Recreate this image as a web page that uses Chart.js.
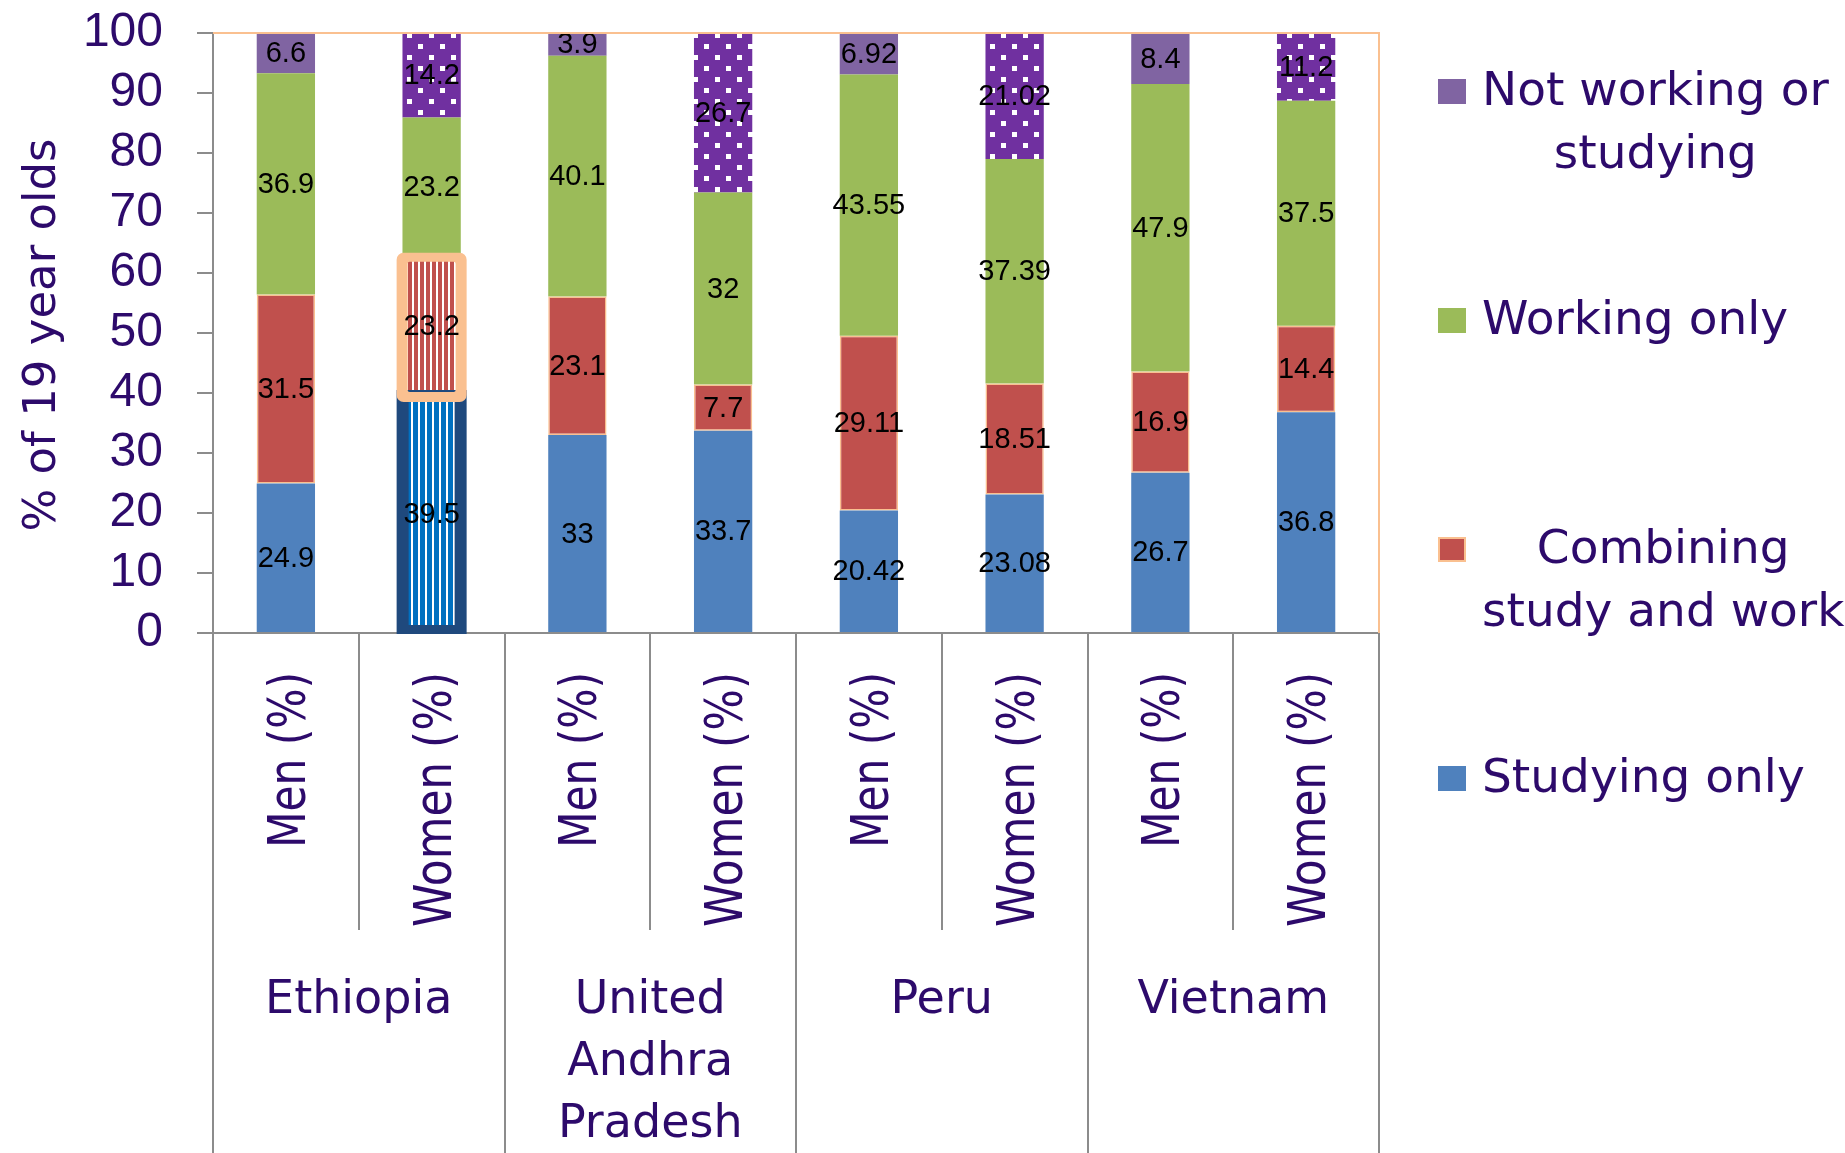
<!DOCTYPE html>
<html>
<head>
<meta charset="utf-8">
<script src="https://cdn.jsdelivr.net/npm/chart.js@4.4.1/dist/chart.umd.min.js"></script>
<style>
  html, body { margin: 0; padding: 0; background: #ffffff; overflow: hidden; }
  canvas { display: block; }
</style>
</head>
<body>
<canvas id="chart" width="1845" height="1153"></canvas>
<script>
// Activity of 19 year olds by country and sex (stacked, %)
const sexLabels = ['Men (%)', 'Women (%)', 'Men (%)', 'Women (%)', 'Men (%)', 'Women (%)', 'Men (%)', 'Women (%)'];
const countryLabels = [['Ethiopia'], ['United', 'Andhra', 'Pradesh'], ['Peru'], ['Vietnam']];

const studyingOnly = [24.9, 39.5, 33, 33.7, 20.42, 23.08, 26.7, 36.8];
const combiningStudyWork = [31.5, 23.2, 23.1, 7.7, 29.11, 18.51, 16.9, 14.4];
const workingOnly = [36.9, 23.2, 40.1, 32, 43.55, 37.39, 47.9, 37.5];
const notWorkingOrStudying = [6.6, 14.2, 3.9, 26.7, 6.92, 21.02, 8.4, 11.2];

const seriesNames = ['Studying only', 'Combining study and work', 'Working only', 'Not working or studying'];
const legendLines = [['Not working or', 'studying'], ['Working only'], ['Combining', 'study and work'], ['Studying only']];

const yTickStep = 10;
const yMin = 0;
const yMax = 100;

const TEXT = '#2D0A6B';
const AXIS = '#8c8c8c';
const PLOT_EDGE = '#FAC090';
const BLUE = '#4F81BD', RED = '#C0504D', GREEN = '#9BBB59', PURPLE = '#8064A2';

// ---- fill patterns ----
function makePattern(w, h, paint) {
  const c = document.createElement('canvas');
  c.width = w; c.height = h;
  const g = c.getContext('2d');
  paint(g);
  return g.createPattern(c, 'repeat');
}
const ctx = document.getElementById('chart').getContext('2d');
const dots = makePattern(22, 22, g => {
  g.fillStyle = '#7030A0'; g.fillRect(0, 0, 22, 22);
  g.fillStyle = '#ffffff';
  g.fillRect(0, 0, 5, 5); g.fillRect(11, 11, 5, 5);
});
const blueStripes = makePattern(7, 10, g => {
  g.fillStyle = '#0070C0'; g.fillRect(0, 0, 7, 10);
  g.fillStyle = '#ffffff'; g.fillRect(5, 0, 2, 10);
});
const redStripes = makePattern(6, 10, g => {
  g.fillStyle = RED; g.fillRect(0, 0, 6, 10);
  g.fillStyle = '#ffffff'; g.fillRect(4, 0, 2, 10);
});

const isWomen = i => i % 2 === 1;

// ---- plugins ----
const frames = {
  id: 'frames',
  afterDatasetsDraw(chart) {
    const c = chart.ctx;
    const s = chart.getDatasetMeta(0).data[1];
    const m = chart.getDatasetMeta(1).data[1];
    c.save();
    // navy frame round the striped blue segment
    if (s) {
      const cx = s.x, top = s.y, base = s.base;
      c.beginPath();
      c.rect(cx - 35, top - 6, 70, base + 2 - (top - 6));
      c.rect(cx - 23, top + 6, 46, base - 7 - (top + 6));
      c.fillStyle = '#1F497D';
      c.fill('evenodd');
    }
    // light orange rounded frame round the striped red segment
    if (m) {
      const cx = m.x, top = m.y, base = m.base;
      c.beginPath();
      c.roundRect(cx - 35, top - 4, 70, base + 6 - (top - 4), 7);
      c.roundRect(cx - 24, top + 5, 48, base - 4 - (top + 5), 2);
      c.fillStyle = PLOT_EDGE;
      c.fill('evenodd');
    }
    c.restore();
  }
};

const valueLabels = {
  id: 'valueLabels',
  afterDatasetsDraw(chart) {
    const c = chart.ctx;
    c.save();
    c.font = '29px "Liberation Sans", Arial, sans-serif';
    c.fillStyle = '#000000';
    c.textAlign = 'center';
    c.textBaseline = 'middle';
    chart.data.datasets.forEach((ds, di) => {
      chart.getDatasetMeta(di).data.forEach((el, i) => {
        const cy = (el.y + el.base) / 2;
        c.fillText(String(ds.data[i]), el.x, cy + 1);
      });
    });
    c.restore();
  }
};

const axisDecor = {
  id: 'axisDecor',
  afterDraw(chart) {
    const c = chart.ctx;
    const a = chart.chartArea;
    const x = chart.scales.x;
    const H = chart.height;
    const n = sexLabels.length;
    const step = (a.right - a.left) / n;
    c.save();

    // plot area edges (top and right)
    c.strokeStyle = PLOT_EDGE; c.lineWidth = 2;
    c.beginPath();
    c.moveTo(a.left, a.top); c.lineTo(a.right, a.top); c.lineTo(a.right, a.bottom);
    c.stroke();

    // category separators below the axis
    c.strokeStyle = AXIS; c.lineWidth = 2;
    for (let k = 0; k <= n; k++) {
      const px = Math.round(x.getPixelForValue(0) - step / 2 + k * step);
      const bottom = (k % 2 === 0) ? H : 930;
      c.beginPath(); c.moveTo(px, a.bottom); c.lineTo(px, bottom); c.stroke();
    }

    // rotated sex labels
    c.fillStyle = TEXT;
    c.font = '51px "DejaVu Sans", sans-serif';
    c.textAlign = 'right';
    c.textBaseline = 'alphabetic';
    sexLabels.forEach((lab, i) => {
      const cx = x.getPixelForValue(i);
      c.save();
      c.translate(cx, a.bottom + 39);
      c.rotate(-Math.PI / 2);
      c.scale(isWomen(i) ? 0.86 : 0.83, 1);
      c.fillText(lab, 0, 19);
      c.restore();
    });

    // country labels
    c.font = '46px "DejaVu Sans", sans-serif';
    c.textAlign = 'center';
    countryLabels.forEach((lines, g) => {
      const cx = (x.getPixelForValue(2 * g) + x.getPixelForValue(2 * g + 1)) / 2;
      lines.forEach((t, j) => c.fillText(t, cx, 1013 + j * 62));
    });

    // y axis title
    c.save();
    c.font = '45px "DejaVu Sans", sans-serif';
    c.textAlign = 'center';
    c.textBaseline = 'middle';
    c.translate(43, (a.top + a.bottom) / 2 + 2);
    c.rotate(-Math.PI / 2);
    c.fillText('% of 19 year olds', 0, 0);
    c.restore();

    // legend
    const swatches = [PURPLE, GREEN, RED, BLUE];
    c.font = '47px "DejaVu Sans", sans-serif';
    c.textBaseline = 'alphabetic';
    c.textAlign = 'center';
    const sx = a.right + 59, tx = a.right + 103;
    legendLines.forEach((lines, k) => {
      const base = a.top + 72 + k * 229;
      c.fillStyle = swatches[k];
      c.fillRect(sx, base - 26, 28, 25);
      if (k === 2) {
        c.strokeStyle = PLOT_EDGE; c.lineWidth = 2;
        c.strokeRect(sx + 1, base - 25, 26, 23);
      }
      const w = Math.max(...lines.map(t => c.measureText(t).width));
      c.fillStyle = TEXT;
      lines.forEach((t, j) => c.fillText(t, tx + w / 2, base + j * 63));
    });
    c.restore();
  }
};

const commonBar = { barPercentage: 0.4, categoryPercentage: 1.0, borderSkipped: false };

new Chart(ctx, {
  type: 'bar',
  data: {
    labels: sexLabels,
    datasets: [
      { ...commonBar, label: seriesNames[0], data: studyingOnly,
        backgroundColor: c => c.dataIndex === 1 ? blueStripes : BLUE, borderWidth: 0 },
      { ...commonBar, label: seriesNames[1], data: combiningStudyWork,
        backgroundColor: c => c.dataIndex === 1 ? redStripes : RED,
        borderColor: PLOT_EDGE, borderWidth: c => c.dataIndex === 1 ? 0 : 1.5 },
      { ...commonBar, label: seriesNames[2], data: workingOnly,
        backgroundColor: GREEN, borderWidth: 0 },
      { ...commonBar, label: seriesNames[3], data: notWorkingOrStudying,
        backgroundColor: c => isWomen(c.dataIndex) ? dots : PURPLE, borderWidth: 0 }
    ]
  },
  options: {
    responsive: false,
    animation: false,
    devicePixelRatio: 1,
    layout: { padding: { top: 33, right: 466, left: 0, bottom: 0 } },
    plugins: { legend: { display: false }, tooltip: { enabled: false } },
    scales: {
      x: {
        stacked: true,
        grid: { display: false },
        ticks: { display: false },
        border: { display: true, color: AXIS, width: 2 },
        afterFit(s) { s.height = 520; s.paddingLeft = 0; s.paddingRight = 0; }
      },
      y: {
        stacked: true,
        min: yMin, max: yMax,
        ticks: {
          stepSize: yTickStep,
          autoSkip: false,
          color: TEXT,
          padding: 34,
          font: { family: '"Liberation Sans", Arial, sans-serif', size: 48 }
        },
        grid: { drawOnChartArea: false, drawTicks: true, tickLength: 16, color: AXIS, lineWidth: 2 },
        border: { display: true, color: AXIS, width: 2 },
        afterFit(s) { s.width = 213; s.paddingTop = 0; s.paddingBottom = 0; }
      }
    }
  },
  plugins: [frames, valueLabels, axisDecor]
});
</script>
</body>
</html>
